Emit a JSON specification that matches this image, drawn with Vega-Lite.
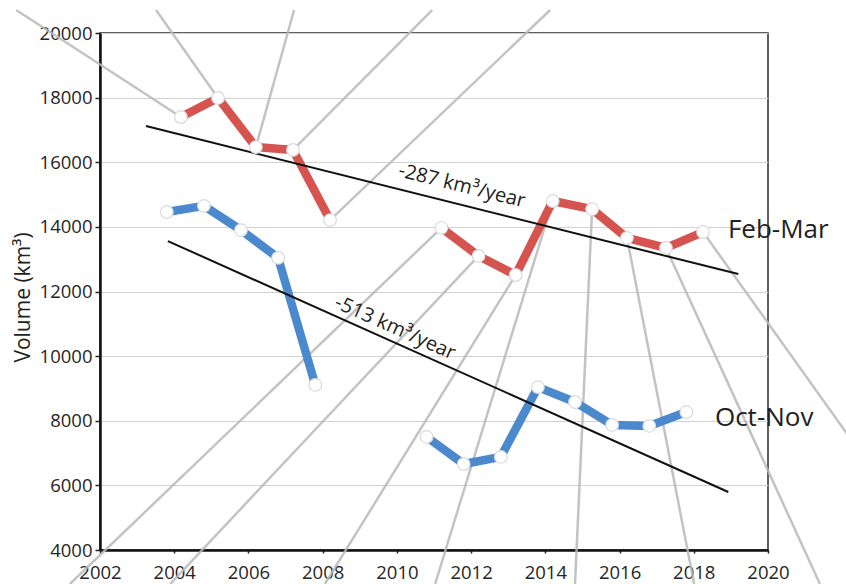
{
  "$schema": "https://vega.github.io/schema/vega-lite/v6.json",
  "width": 668,
  "height": 517,
  "autosize": {"type": "none"},
  "padding": {"left": 100, "top": 33, "right": 78, "bottom": 34},
  "background": "white",
  "config": {
    "font": "Open Sans",
    "view": {"stroke": "#2b2b2b", "strokeWidth": 1.5},
    "axis": {
      "labelFont": "Open Sans",
      "labelFontSize": 18.5,
      "labelColor": "#262626",
      "labelFlush": false,
      "labelOverlap": false,
      "domainColor": "#111111",
      "domainWidth": 2.5,
      "tickColor": "#222222",
      "tickWidth": 1.5,
      "titleFont": "Open Sans",
      "titleFontSize": 21,
      "titleFontWeight": "normal",
      "titleColor": "#222222"
    },
    "axisX": {
      "grid": false,
      "tickSize": 3,
      "labelPadding": 10,
      "format": "d"
    },
    "axisY": {
      "grid": true,
      "gridColor": "#d2d2d2",
      "gridWidth": 1.2,
      "tickSize": 5,
      "labelPadding": 3,
      "format": "d",
      "titleX": -77,
      "titleY": 264,
      "titleBaseline": "middle"
    }
  },
  "datasets": {
    "rays": [
      {"x0": 1999.74, "v0": 20711, "x1": 2004.18, "v1": 17400},
      {"x0": 2003.51, "v0": 20711, "x1": 2005.18, "v1": 17990},
      {"x0": 2007.23, "v0": 20711, "x1": 2006.2, "v1": 16470},
      {"x0": 2010.95, "v0": 20711, "x1": 2007.2, "v1": 16380},
      {"x0": 2014.13, "v0": 20711, "x1": 2008.2, "v1": 14210},
      {"x0": 2001.19, "v0": 2948, "x1": 2011.2, "v1": 13970},
      {"x0": 2003.89, "v0": 2948, "x1": 2012.2, "v1": 13100},
      {"x0": 2008.06, "v0": 2948, "x1": 2013.2, "v1": 12510},
      {"x0": 2011.03, "v0": 2948, "x1": 2014.2, "v1": 14800},
      {"x0": 2014.8, "v0": 2948, "x1": 2015.26, "v1": 14550},
      {"x0": 2018.01, "v0": 2948, "x1": 2016.2, "v1": 13660},
      {"x0": 2021.4, "v0": 2948, "x1": 2017.25, "v1": 13350},
      {"x0": 2023.02, "v0": 6166, "x1": 2018.25, "v1": 13840}
    ],
    "series": [
      {"season": "Feb-Mar", "segment": "FM1", "t": 2004.18, "volume": 17400},
      {"season": "Feb-Mar", "segment": "FM1", "t": 2005.18, "volume": 17990},
      {"season": "Feb-Mar", "segment": "FM1", "t": 2006.2, "volume": 16470},
      {"season": "Feb-Mar", "segment": "FM1", "t": 2007.2, "volume": 16380},
      {"season": "Feb-Mar", "segment": "FM1", "t": 2008.2, "volume": 14210},
      {"season": "Feb-Mar", "segment": "FM2", "t": 2011.2, "volume": 13970},
      {"season": "Feb-Mar", "segment": "FM2", "t": 2012.2, "volume": 13100},
      {"season": "Feb-Mar", "segment": "FM2", "t": 2013.2, "volume": 12510},
      {"season": "Feb-Mar", "segment": "FM2", "t": 2014.2, "volume": 14800},
      {"season": "Feb-Mar", "segment": "FM2", "t": 2015.26, "volume": 14550},
      {"season": "Feb-Mar", "segment": "FM2", "t": 2016.2, "volume": 13660},
      {"season": "Feb-Mar", "segment": "FM2", "t": 2017.25, "volume": 13350},
      {"season": "Feb-Mar", "segment": "FM2", "t": 2018.25, "volume": 13840},
      {"season": "Oct-Nov", "segment": "ON1", "t": 2003.8, "volume": 14460},
      {"season": "Oct-Nov", "segment": "ON1", "t": 2004.8, "volume": 14650},
      {"season": "Oct-Nov", "segment": "ON1", "t": 2005.8, "volume": 13900},
      {"season": "Oct-Nov", "segment": "ON1", "t": 2006.8, "volume": 13040},
      {"season": "Oct-Nov", "segment": "ON1", "t": 2007.8, "volume": 9110},
      {"season": "Oct-Nov", "segment": "ON2", "t": 2010.8, "volume": 7500},
      {"season": "Oct-Nov", "segment": "ON2", "t": 2011.8, "volume": 6660},
      {"season": "Oct-Nov", "segment": "ON2", "t": 2012.8, "volume": 6880},
      {"season": "Oct-Nov", "segment": "ON2", "t": 2013.8, "volume": 9040},
      {"season": "Oct-Nov", "segment": "ON2", "t": 2014.8, "volume": 8580},
      {"season": "Oct-Nov", "segment": "ON2", "t": 2015.8, "volume": 7870},
      {"season": "Oct-Nov", "segment": "ON2", "t": 2016.8, "volume": 7840},
      {"season": "Oct-Nov", "segment": "ON2", "t": 2017.8, "volume": 8270}
    ],
    "trends": [
      {"season": "Feb-Mar", "t": 2003.24, "volume": 17120},
      {"season": "Feb-Mar", "t": 2019.2, "volume": 12540},
      {"season": "Oct-Nov", "t": 2003.83, "volume": 13560},
      {"season": "Oct-Nov", "t": 2018.93, "volume": 5795}
    ],
    "seasonLabels": [
      {"label": "Feb-Mar", "t": 2018.92, "volume": 13900},
      {"label": "Oct-Nov", "t": 2018.57, "volume": 8085}
    ],
    "rateLabels": [
      {"season": "Feb-Mar", "label": "-287 km³/year", "t": 2011.75, "volume": 15265},
      {"season": "Oct-Nov", "label": "-513 km³/year", "t": 2009.95, "volume": 10870}
    ]
  },
  "layer": [
    {
      "data": {"name": "rays"},
      "mark": {"type": "rule", "color": "#b8b8b8", "strokeWidth": 2.5, "opacity": 0.85},
      "encoding": {
        "x": {
          "field": "x0",
          "type": "quantitative",
          "title": null,
          "scale": {"domain": [2002, 2020], "nice": false, "zero": false},
          "axis": {"values": [2002, 2004, 2006, 2008, 2010, 2012, 2014, 2016, 2018, 2020]}
        },
        "y": {
          "field": "v0",
          "type": "quantitative",
          "title": "Volume (km³)",
          "scale": {"domain": [4000, 20000], "nice": false, "zero": false},
          "axis": {"values": [4000, 6000, 8000, 10000, 12000, 14000, 16000, 18000, 20000]}
        },
        "x2": {"field": "x1"},
        "y2": {"field": "v1"}
      }
    },
    {
      "data": {"name": "series"},
      "mark": {"type": "line", "strokeWidth": 8.5, "strokeJoin": "round", "strokeCap": "round"},
      "encoding": {
        "x": {"field": "t", "type": "quantitative", "title": null},
        "y": {"field": "volume", "type": "quantitative", "title": "Volume (km³)"},
        "detail": {"field": "segment"},
        "color": {
          "field": "season",
          "type": "nominal",
          "scale": {"domain": ["Feb-Mar", "Oct-Nov"], "range": ["#d6544f", "#4a89cd"]},
          "legend": null
        }
      }
    },
    {
      "data": {"name": "trends"},
      "mark": {"type": "line", "color": "#111111", "strokeWidth": 2},
      "encoding": {
        "x": {"field": "t", "type": "quantitative", "title": null},
        "y": {"field": "volume", "type": "quantitative", "title": "Volume (km³)"},
        "detail": {"field": "season"}
      }
    },
    {
      "data": {"name": "series"},
      "mark": {"type": "point", "filled": true, "fill": "white", "stroke": "#d8dadd", "strokeWidth": 1.2, "size": 160, "opacity": 1},
      "encoding": {
        "x": {"field": "t", "type": "quantitative", "title": null},
        "y": {"field": "volume", "type": "quantitative", "title": "Volume (km³)"}
      }
    },
    {
      "data": {"name": "seasonLabels"},
      "mark": {"type": "text", "align": "left", "baseline": "middle", "font": "Open Sans", "fontSize": 26, "color": "#222222"},
      "encoding": {
        "x": {"field": "t", "type": "quantitative", "title": null},
        "y": {"field": "volume", "type": "quantitative", "title": "Volume (km³)"},
        "text": {"field": "label"}
      }
    },
    {
      "data": {"name": "rateLabels"},
      "transform": [{"filter": "datum.season === 'Feb-Mar'"}],
      "mark": {"type": "text", "align": "center", "baseline": "middle", "angle": 14, "font": "Open Sans", "fontSize": 20, "color": "#222222"},
      "encoding": {
        "x": {"field": "t", "type": "quantitative", "title": null},
        "y": {"field": "volume", "type": "quantitative", "title": "Volume (km³)"},
        "text": {"field": "label"}
      }
    },
    {
      "data": {"name": "rateLabels"},
      "transform": [{"filter": "datum.season === 'Oct-Nov'"}],
      "mark": {"type": "text", "align": "center", "baseline": "middle", "angle": 24, "font": "Open Sans", "fontSize": 20, "color": "#222222"},
      "encoding": {
        "x": {"field": "t", "type": "quantitative", "title": null},
        "y": {"field": "volume", "type": "quantitative", "title": "Volume (km³)"},
        "text": {"field": "label"}
      }
    }
  ]
}
